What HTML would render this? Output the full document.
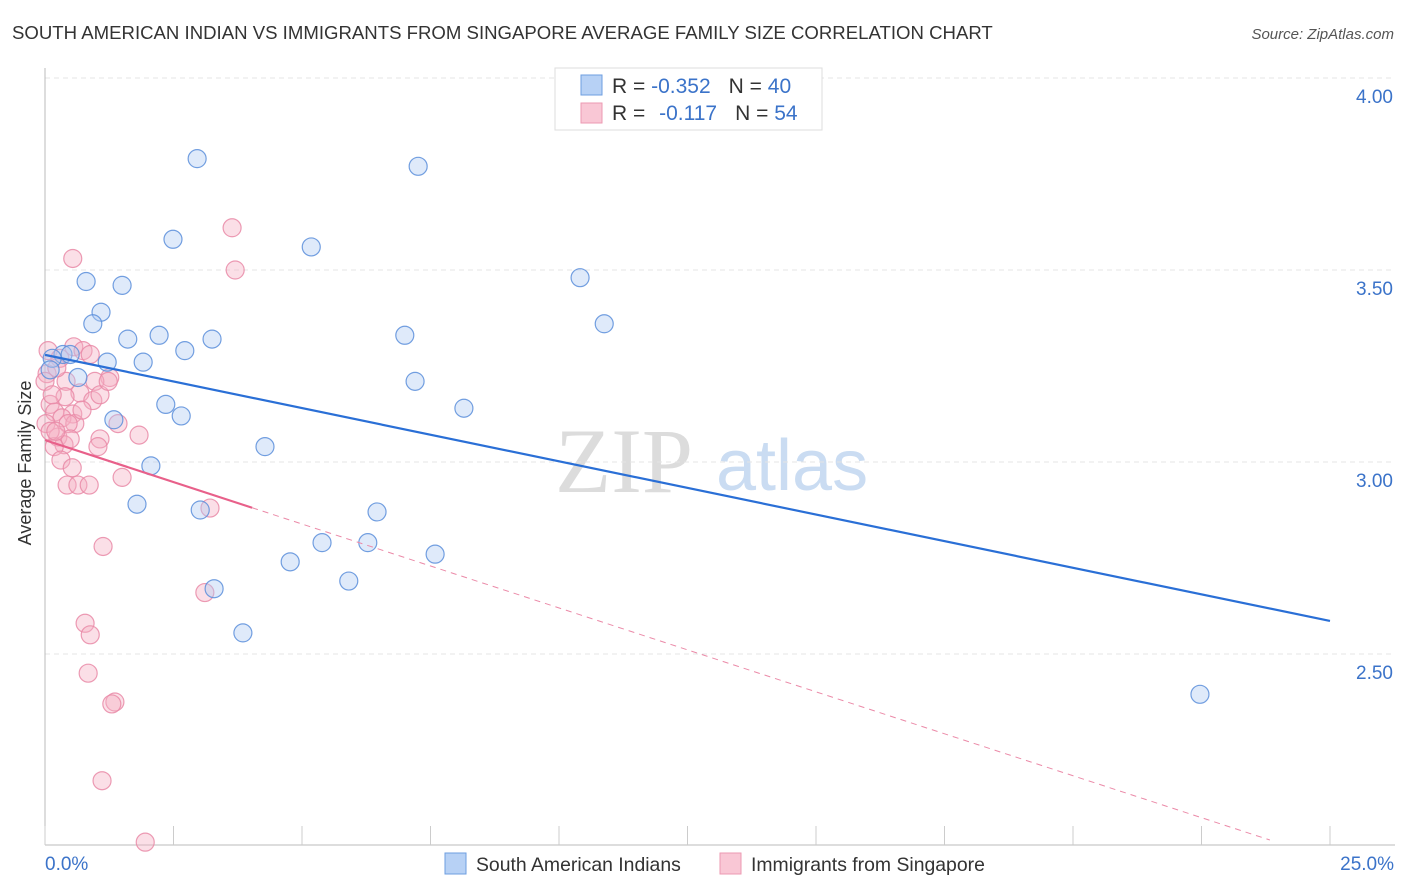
<!DOCTYPE html>
<html><head><meta charset="utf-8"><style>
body{margin:0;background:#fff;font-family:"Liberation Sans",sans-serif;}
#wrap{position:relative;width:1406px;height:892px;overflow:hidden;}
</style></head><body>
<div id="wrap">
<svg id="svg" width="1406" height="892" xmlns="http://www.w3.org/2000/svg">
<text x="12" y="39" font-size="18.6" fill="#333">SOUTH AMERICAN INDIAN VS IMMIGRANTS FROM SINGAPORE AVERAGE FAMILY SIZE CORRELATION CHART</text>
<text x="1394" y="39" font-size="15" fill="#555" font-style="italic" text-anchor="end">Source: ZipAtlas.com</text>
<text x="24" y="456" font-size="18" fill="#333" text-anchor="middle" transform="rotate(-90 31 456)">Average Family Size</text>
<g>
<text x="555" y="492" font-size="92" font-family="Liberation Serif,serif" fill="#dcdcdc">ZIP</text>
<text x="716" y="490" font-size="72" fill="#cadcf2">atlas</text>
</g>
<g id="grid"></g><g id="axes"></g><g id="marks"></g>
<g>
<rect x="555" y="68" width="267" height="62" fill="#fff" stroke="#ddd"/>
<rect x="581" y="75" width="21" height="20" fill="#b7d1f5" stroke="#6d9ee0"/>
<rect x="581" y="103" width="21" height="20" fill="#f9c7d5" stroke="#ec9ab2"/>
<text x="612" y="93" font-size="21" fill="#333">R = <tspan fill="#3b73c9">-0.352</tspan><tspan dx="18">N = </tspan><tspan fill="#3b73c9">40</tspan></text>
<text x="612" y="120" font-size="21" fill="#333">R = <tspan dx="8" fill="#3b73c9">-0.117</tspan><tspan dx="18">N = </tspan><tspan fill="#3b73c9">54</tspan></text>
</g>
<g>
<rect x="445" y="853" width="21" height="21" fill="#b7d1f5" stroke="#6d9ee0"/>
<text x="476" y="871" font-size="19.4" fill="#333">South American Indians</text>
<rect x="720" y="853" width="21" height="21" fill="#f9c7d5" stroke="#ec9ab2"/>
<text x="751" y="871" font-size="19.4" fill="#333">Immigrants from Singapore</text>
</g>
<text x="45" y="870" font-size="19" fill="#3b73c9">0.0%</text>
<text x="1394" y="870" font-size="19" fill="#3b73c9" text-anchor="end">25.0%</text>
</svg>
</div>
<script>
const yTicks=[4.0,3.5,3.0,2.5];
const yTickLabels=["4.00","3.50","3.00","2.50"];
const blueX=[2.96,7.26,2.49,5.18,0.80,1.50,10.41,1.09,0.93,10.88,1.61,2.22,3.25,7.00,2.72,0.35,0.49,0.14,1.21,1.91,0.64,7.20,2.35,1.34,2.65,8.15,4.28,2.06,1.79,3.02,6.46,5.39,6.28,7.59,4.77,5.91,3.29,3.85,22.47,0.10];
const blueY=[3.79,3.77,3.58,3.56,3.47,3.46,3.48,3.39,3.36,3.36,3.32,3.33,3.32,3.33,3.29,3.28,3.28,3.27,3.26,3.26,3.22,3.21,3.15,3.11,3.12,3.14,3.04,2.99,2.89,2.875,2.87,2.79,2.79,2.76,2.74,2.69,2.67,2.555,2.395,3.24];
const pinkX=[0.54,3.64,3.70,0.56,0.74,0.06,0.29,0.88,1.26,0.41,0.97,0.04,0.68,0.39,0.93,0.10,0.19,0.54,1.42,0.33,0.02,0.58,1.83,0.25,1.07,0.37,1.03,0.18,0.31,0.53,1.50,0.43,0.64,0.86,3.21,1.13,0.78,0.88,3.11,0.84,1.36,1.30,1.11,1.95,0.10,0.00,0.23,0.45,1.07,1.23,0.14,0.72,0.49,0.21];
const pinkY=[3.53,3.61,3.50,3.30,3.29,3.29,3.27,3.28,3.22,3.21,3.21,3.23,3.18,3.17,3.16,3.15,3.13,3.125,3.10,3.115,3.10,3.10,3.07,3.065,3.06,3.045,3.04,3.04,3.005,2.985,2.96,2.94,2.94,2.94,2.88,2.78,2.58,2.55,2.66,2.45,2.375,2.37,2.17,2.01,3.08,3.21,3.245,3.10,3.175,3.21,3.175,3.135,3.06,3.08];
const blueTrend=[3.279,-0.02772];
const pinkTrend=[3.057,-0.0437];
const X0=45,X1=1330,YT=78;
const xs=v=>X0+(X1-X0)*v/25;
const ys=v=>YT+(4-v)*384;
const NS="http://www.w3.org/2000/svg";
function mk(t,a,p){const e=document.createElementNS(NS,t);for(const k in a)e.setAttribute(k,a[k]);p.appendChild(e);return e;}
const grid=document.getElementById('grid'),axes=document.getElementById('axes'),marks=document.getElementById('marks');
yTicks.forEach((t,i)=>{
 const l=mk('line',{x1:X0,x2:1395,y1:ys(t),y2:ys(t),stroke:'#e4e4e4','stroke-dasharray':'5,4'},grid);
 
 
 const tx=mk('text',{x:1393,y:ys(t)+25,'font-size':19,fill:'#3b73c9','text-anchor':'end'},grid);
 tx.textContent=yTickLabels[i];
 
 
});
let a=mk('line',{x1:X0,x2:X0,y1:68,y2:845,stroke:'#bbb'},axes);


a=mk('line',{x1:X0,x2:1395,y1:845,y2:845,stroke:'#bbb'},axes);


for(let i=0;i<=10;i++){
 const t=mk('line',{x1:xs(i*2.5),x2:xs(i*2.5),y1:826,y2:845,stroke:'#ccc'},axes);
 
 
}
function dots(X,Y,fill,stroke,name){
 X.forEach((x,i)=>{
  const c=mk('circle',{cx:xs(x),cy:ys(Y[i]),r:9,fill:fill,'fill-opacity':0.4,stroke:stroke,'stroke-opacity':0.85,'stroke-width':1.2},marks);
  
  
 });
}
dots(pinkX,pinkY,'#f5b0c4','#e98aa7','pink-point');
dots(blueX,blueY,'#afcbf2','#5a8edb','blue-point');
let ln=mk('line',{x1:xs(0),y1:ys(blueTrend[0]),x2:xs(25),y2:ys(blueTrend[0]+blueTrend[1]*25),stroke:'#2a6fd6','stroke-width':2.2},marks);


ln=mk('line',{x1:xs(0),y1:ys(pinkTrend[0]),x2:xs(4.03),y2:ys(pinkTrend[0]+pinkTrend[1]*4.03),stroke:'#e8608a','stroke-width':2.2},marks);


ln=mk('line',{x1:xs(4.03),y1:ys(pinkTrend[0]+pinkTrend[1]*4.03),x2:xs(23.83),y2:ys(pinkTrend[0]+pinkTrend[1]*23.83),stroke:'#eb8aa8','stroke-width':1,'stroke-dasharray':'6,5'},marks);


</script>
</body></html>
